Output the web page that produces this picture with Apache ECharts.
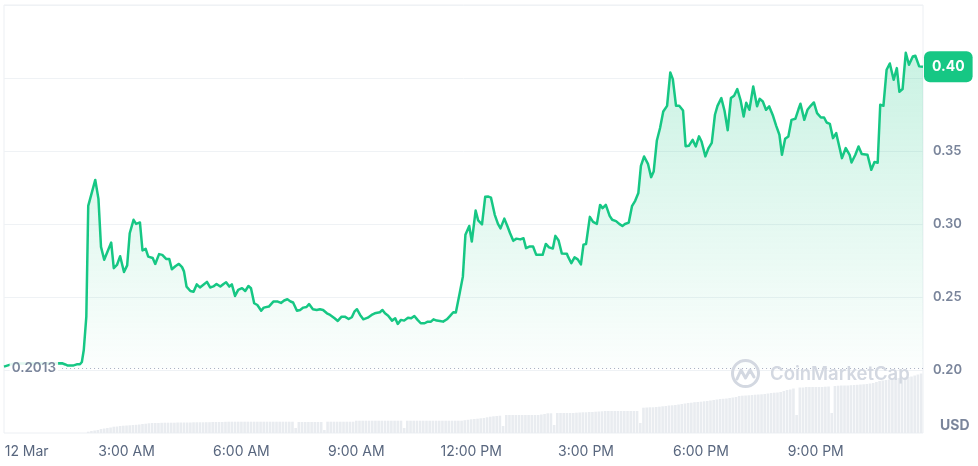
<!DOCTYPE html>
<html><head><meta charset="utf-8">
<script src="https://cdn.jsdelivr.net/npm/echarts@6/dist/echarts.min.js"></script>
<style>html,body{margin:0;padding:0;background:#fff}#c{width:978px;height:466px}</style>
</head><body><div id="c"></div>
<script>
// Time in minutes since 00:00, 12 Mar
const priceTimes = [
  -12, 4, 79, 84, 88, 96, 102, 107, 110, 113,
  117, 120, 131, 136, 140, 145, 156, 160, 165, 170,
  176, 181, 185, 191, 195, 201, 205, 210, 214, 221,
  225, 231, 236, 242, 247, 251, 257, 262, 267, 270,
  274, 280, 285, 290, 295, 300, 306, 311, 316, 321,
  327, 332, 336, 341, 345, 350, 355, 361, 366, 371,
  375, 380, 385, 391, 395, 403, 410, 417, 422, 427,
  432, 437, 441, 447, 452, 457, 462, 466, 472, 478,
  483, 488, 494, 499, 506, 511, 517, 522, 528, 533,
  537, 541, 546, 551, 558, 564, 569, 577, 581, 585,
  590, 596, 601, 605, 610, 615, 621, 626, 631, 636,
  641, 647, 652, 657, 661, 666, 671, 676, 682, 687,
  692, 696, 702, 707, 711, 717, 721, 727, 731, 737,
  742, 747, 751, 757, 762, 766, 772, 777, 781, 786,
  791, 797, 802, 806, 812, 817, 822, 832, 837, 842,
  848, 852, 857, 862, 870, 872, 877, 882, 887, 892,
  896, 900, 906, 911, 917, 922, 926, 931, 937, 941,
  947, 952, 957, 961, 967, 972, 977, 982, 986, 991,
  997, 1002, 1006, 1011, 1016, 1021, 1027, 1032, 1036, 1041,
  1046, 1052, 1056, 1061, 1067, 1072, 1077, 1081, 1087, 1092,
  1097, 1102, 1106, 1112, 1117, 1122, 1127, 1132, 1137, 1142,
  1147, 1151, 1156, 1162, 1168, 1172, 1177, 1182, 1187, 1193,
  1198, 1203, 1207, 1212, 1217, 1222, 1228, 1233, 1236, 1242,
  1247, 1252, 1257, 1262, 1268, 1273, 1277, 1282, 1287, 1292,
  1295, 1301, 1307, 1313, 1316, 1322, 1327, 1332, 1341, 1347,
  1352, 1357, 1361, 1366, 1371, 1376, 1382, 1387, 1391, 1396,
  1401, 1406, 1412, 1416, 1422, 1428
];
const priceValues = [
  0.2025, 0.2047, 0.2048, 0.2040, 0.2032, 0.2032, 0.2041, 0.2041, 0.2057, 0.2139,
  0.2367, 0.3125, 0.3303, 0.3173, 0.2845, 0.2757, 0.2874, 0.2699, 0.2721, 0.2781,
  0.2673, 0.2718, 0.2938, 0.3030, 0.3002, 0.3012, 0.2820, 0.2831, 0.2778, 0.2769,
  0.2728, 0.2795, 0.2790, 0.2762, 0.2762, 0.2692, 0.2714, 0.2728, 0.2706, 0.2677,
  0.2573, 0.2543, 0.2538, 0.2588, 0.2567, 0.2584, 0.2605, 0.2567, 0.2574, 0.2591,
  0.2573, 0.2591, 0.2603, 0.2573, 0.2588, 0.2509, 0.2550, 0.2562, 0.2543, 0.2577,
  0.2562, 0.2459, 0.2447, 0.2408, 0.2429, 0.2436, 0.2470, 0.2470, 0.2461, 0.2478,
  0.2486, 0.2471, 0.2464, 0.2408, 0.2413, 0.2429, 0.2433, 0.2453, 0.2418, 0.2413,
  0.2418, 0.2413, 0.2390, 0.2379, 0.2356, 0.2338, 0.2367, 0.2367, 0.2351, 0.2363,
  0.2401, 0.2418, 0.2379, 0.2349, 0.2360, 0.2379, 0.2390, 0.2397, 0.2413, 0.2390,
  0.2374, 0.2340, 0.2356, 0.2317, 0.2345, 0.2340, 0.2360, 0.2356, 0.2372, 0.2345,
  0.2322, 0.2322, 0.2333, 0.2333, 0.2349, 0.2340, 0.2338, 0.2333, 0.2349, 0.2372,
  0.2397, 0.2395, 0.2527, 0.2641, 0.2927, 0.2988, 0.2881, 0.3093, 0.3026, 0.2999,
  0.3187, 0.3189, 0.3182, 0.3064, 0.3002, 0.2971, 0.3038, 0.2984, 0.2938, 0.2886,
  0.2901, 0.2896, 0.2904, 0.2836, 0.2848, 0.2847, 0.2790, 0.2790, 0.2865, 0.2841,
  0.2834, 0.2920, 0.2888, 0.2800, 0.2797, 0.2776, 0.2733, 0.2773, 0.2759, 0.2725,
  0.2860, 0.2864, 0.3050, 0.3016, 0.3002, 0.3132, 0.3110, 0.3132, 0.3057, 0.3030,
  0.3021, 0.3002, 0.2988, 0.3001, 0.3011, 0.3123, 0.3160, 0.3214, 0.3399, 0.3463,
  0.3413, 0.3322, 0.3360, 0.3573, 0.3658, 0.3771, 0.3810, 0.4038, 0.3993, 0.3810,
  0.3810, 0.3778, 0.3534, 0.3536, 0.3577, 0.3532, 0.3601, 0.3566, 0.3464, 0.3521,
  0.3557, 0.3749, 0.3810, 0.3863, 0.3776, 0.3643, 0.3863, 0.3879, 0.3925, 0.3851,
  0.3737, 0.3831, 0.3783, 0.3943, 0.3807, 0.3858, 0.3840, 0.3783, 0.3806, 0.3742,
  0.3673, 0.3612, 0.3475, 0.3584, 0.3600, 0.3714, 0.3721, 0.3788, 0.3824, 0.3714,
  0.3783, 0.3810, 0.3833, 0.3760, 0.3730, 0.3730, 0.3696, 0.3687, 0.3589, 0.3623,
  0.3566, 0.3452, 0.3521, 0.3475, 0.3422, 0.3475, 0.3532, 0.3480, 0.3475, 0.3372,
  0.3425, 0.3420, 0.3817, 0.3810, 0.4057, 0.4100, 0.3988, 0.4068, 0.3906, 0.3925,
  0.4173, 0.4091, 0.4148, 0.4153, 0.4080, 0.4077
];
// Volume bars: one per 5 minutes, first bar at 02:00
const volumeStartMinute = 120;
const volumeStepMinutes = 5;
// Volume (thousand USD)
const volumeValues = [
  13, 20, 25, 30, 40, 45, 50, 55, 63, 65,
  70, 73, 75, 77, 80, 82, 85, 90, 93, 97,
  100, 100, 100, 102, 103, 103, 103, 103, 105, 105,
  105, 105, 105, 107, 107, 107, 107, 108, 108, 110,
  110, 110, 110, 112, 113, 113, 113, 113, 113, 113,
  113, 113, 113, 113, 113, 113, 113, 113, 113, 113,
  113, 113, 113, 113, 113, 50, 110, 110, 110, 110,
  110, 110, 110, 110, 30, 113, 113, 113, 113, 113,
  113, 113, 113, 113, 123, 123, 123, 123, 123, 123,
  123, 123, 123, 123, 123, 123, 123, 123, 123, 50,
  123, 123, 123, 123, 123, 123, 123, 123, 123, 123,
  123, 123, 123, 123, 123, 123, 123, 123, 128, 132,
  137, 140, 143, 147, 150, 157, 163, 167, 170, 173,
  70, 180, 180, 180, 180, 180, 180, 180, 180, 180,
  180, 180, 185, 190, 197, 197, 80, 200, 200, 200,
  200, 200, 200, 203, 205, 207, 207, 210, 210, 213,
  215, 217, 220, 220, 220, 220, 220, 220, 220, 220,
  220, 220, 220, 100, 253, 255, 257, 257, 260, 263,
  267, 270, 275, 277, 280, 285, 290, 295, 300, 303,
  308, 310, 313, 317, 320, 325, 330, 335, 340, 342,
  345, 350, 355, 360, 370, 373, 375, 377, 380, 383,
  385, 387, 390, 395, 400, 403, 405, 410, 420, 430,
  435, 445, 180, 455, 455, 460, 460, 460, 460, 460,
  460, 463, 465, 200, 470, 473, 475, 475, 475, 478,
  480, 482, 485, 487, 490, 495, 500, 510, 520, 525,
  530, 535, 540, 545, 550, 553, 555, 560, 565, 575,
  585, 595
];
const xTickMinutes = [0, 180, 360, 540, 720, 900, 1080, 1260];
const xTickLabels = ['12 Mar', '3:00 AM', '6:00 AM', '9:00 AM', '12:00 PM', '3:00 PM', '6:00 PM', '9:00 PM'];
const openPrice = 0.2013;
const currency = 'USD';
const watermarkText = 'CoinMarketCap';

const FONT = 'Inter, "Noto Sans", sans-serif';
const GREEN = '#16c784';
const LABEL = '#7a859b';
const priceData = priceTimes.map((t, i) => [t, priceValues[i]]);
const volData = volumeValues.map((v, i) => [volumeStartMinute + i * volumeStepMinutes, v]);
const lastPrice = priceValues[priceValues.length - 1];

const chart = echarts.init(document.getElementById('c'), null, { renderer: 'canvas' });
chart.setOption({
  animation: false,
  grid: [
    { left: 4, right: 55, top: 5, height: 365.3 },
    { left: 4, right: 55, top: 5, bottom: 33, show: true, borderColor: '#eceff3', borderWidth: 1, backgroundColor: 'rgba(0,0,0,0)' }
  ],
  xAxis: [
    { type: 'value', gridIndex: 0, min: -12, max: 1428, show: false },
    {
      type: 'value', gridIndex: 1, min: -12, max: 1428,
      axisLine: { show: false }, axisTick: { show: false }, splitLine: { show: false },
      axisLabel: {
        customValues: xTickMinutes, margin: 12, color: '#58667e', fontSize: 14, fontFamily: FONT,
        formatter: function (v) {
          const i = xTickMinutes.indexOf(v);
          if (i < 0) return '';
          return i === 0 ? '{first|' + xTickLabels[0] + '}' : xTickLabels[i];
        },
        rich: { first: { padding: [0, 0, 0, 30], fontSize: 14, color: '#58667e', fontFamily: FONT } }
      }
    }
  ],
  yAxis: [
    {
      type: 'value', gridIndex: 0, position: 'right', min: 0.20, max: 0.45, interval: 0.05,
      axisLine: { show: false }, axisTick: { show: false },
      splitLine: { lineStyle: { color: '#eff2f5', width: 1 } },
      axisLabel: {
        margin: 10, showMaxLabel: false, color: LABEL, fontSize: 13, fontWeight: 600, fontFamily: FONT,
        // the current-price badge covers the tick label it overlaps
        formatter: v => (Math.abs(v - lastPrice) < 0.012 ? '' : v.toFixed(2))
      }
    },
    { type: 'value', gridIndex: 1, min: 0, max: 4280, show: false }
  ],
  series: [
    {
      type: 'bar', xAxisIndex: 1, yAxisIndex: 1, data: volData, barWidth: 2.6,
      itemStyle: { color: '#e9ecf0' }, silent: true
    },
    {
      type: 'line', xAxisIndex: 0, yAxisIndex: 0, data: priceData, showSymbol: false, symbol: 'none',
      lineStyle: { color: GREEN, width: 2.5, join: 'round' },
      areaStyle: {
        origin: openPrice,
        color: new echarts.graphic.LinearGradient(0, 0, 0, 1, [
          { offset: 0, color: 'rgba(22,199,132,0.33)' },
          { offset: 1, color: 'rgba(22,199,132,0.02)' }
        ])
      },
      markLine: {
        symbol: ['none', 'none'], silent: true, animation: false, precision: 4,
        lineStyle: { color: '#a6aec0', type: [1, 3], width: 1 },
        data: [
          [
            {
              coord: [79, openPrice],
              lineStyle: { color: '#a6aec0', type: [1, 3], width: 1 },
              label: {
                show: true, position: 'start', distance: 4,
                formatter: () => openPrice.toFixed(4),
                color: LABEL, fontSize: 13.5, fontWeight: 600, fontFamily: FONT,
                backgroundColor: 'rgba(255,255,255,0.88)', padding: [5, 2]
              }
            },
            { coord: [1428, openPrice] }
          ],
          {
            yAxis: lastPrice,
            lineStyle: { color: 'rgba(0,0,0,0)', width: 1, type: 'solid' },
            label: {
              show: true, position: 'end', distance: 1,
              formatter: () => (Math.floor(lastPrice * 100) / 100).toFixed(2),
              color: '#ffffff', fontSize: 14, fontWeight: 'bold', fontFamily: FONT, lineHeight: 15,
              backgroundColor: GREEN, borderRadius: 6, padding: [8, 8, 8, 8]
            }
          }
        ]
      }
    }
  ],
  graphic: [
    {
      type: 'group', left: 730, top: 358, silent: true, z: 100,
      children: [
        { type: 'circle', z: 100, shape: { cx: 14.5, cy: 14.5, r: 13 }, style: { fill: 'none', stroke: '#d3d8e1', lineWidth: 3 } },
        { type: 'polyline', z: 100, shape: { points: [[6, 20], [10, 11], [14.5, 19], [19, 11], [23, 18]] }, style: { stroke: '#d3d8e1', lineWidth: 3, fill: 'none', lineJoin: 'round', lineCap: 'round' } },
        { type: 'text', z: 100, x: 39, y: 15, style: { text: watermarkText, font: '600 18.5px Inter', fill: '#d3d8e1', verticalAlign: 'middle' } }
      ]
    },
    { type: 'text', left: 940, top: 419, style: { text: currency, font: 'bold 14px Inter', fill: LABEL } }
  ]
});
</script>
</body></html>
